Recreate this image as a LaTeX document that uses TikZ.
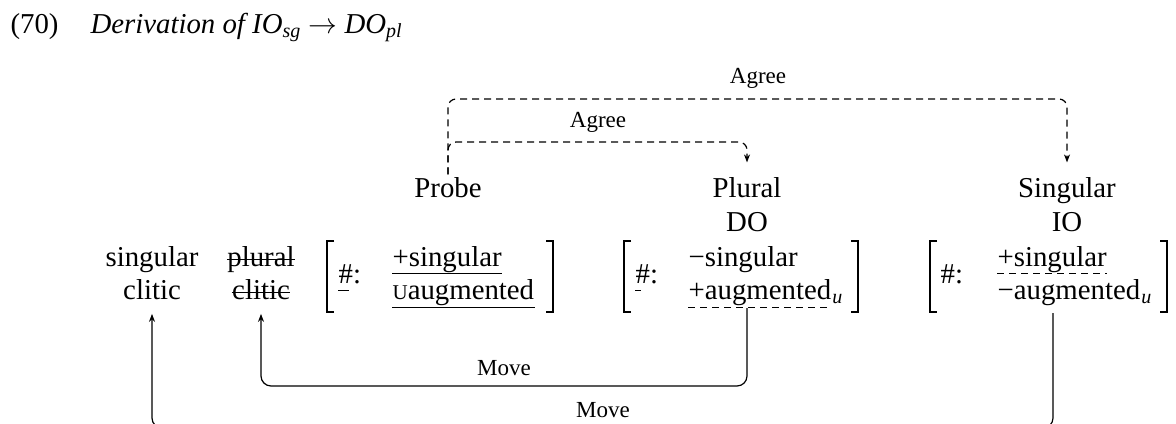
\documentclass[tikz,border=0pt]{standalone}
\usepackage{fontspec}
\setmainfont{Liberation Serif}
\usetikzlibrary{arrows.meta}

\begin{document}
\begin{tikzpicture}[x=0.5pt, y=-0.5pt, semithick,
    word/.style={anchor=base, inner sep=0pt, font=\fontsize{14.4}{17}\selectfont},
    feat/.style={anchor=base west, inner sep=0pt, font=\fontsize{14.4}{17}\selectfont},
    lbl/.style={anchor=base, inner sep=0pt, font=\fontsize{11.5}{13}\selectfont},
    agree/.style={dash pattern=on 3.5pt off 2.5pt, rounded corners=4pt,
        -{Stealth[length=4pt, width=3pt]}, shorten >=7pt, shorten <=1pt},
    move/.style={rounded corners=5pt, -{Stealth[length=4pt, width=3pt]}, shorten >=7pt},
    brk/.style={line width=1pt},
    uln/.style={line width=0.5pt},
    dln/.style={line width=0.5pt, dash pattern=on 3.5pt off 2.5pt}]
    \useasboundingbox (0,0) rectangle (1176,423);

    % example number and title
    \node[feat] (exnum) at (10,33) {(70)};
    \node[feat, font=\fontsize{14.4}{17}\selectfont\itshape] (title) at (90,33)
        {Derivation of IO\textsubscript{sg} $\rightarrow$ DO\textsubscript{pl}};

    % heads
    \node[word] (probe) at (448,197) {Probe};
    \node[word] (plural) at (747,197) {Plural};
    \node[word] (do) at (747,231) {DO};
    \node[word] (sing) at (1067,197) {Singular};
    \node[word] (io) at (1067,231) {IO};

    % clitics
    \node[word] (sgword) at (152,266) {singular};
    \node[word] (sgclitic) at (152,299) {clitic};
    \node[word] (plword) at (261,266) {plural};
    \node[word] (plclitic) at (261,299) {clitic};
    \draw[uln] ([yshift=3.5pt]plword.base west) -- ([yshift=3.5pt]plword.base east);
    \draw[uln] ([yshift=3.5pt]plclitic.base west) -- ([yshift=3.5pt]plclitic.base east);

    % probe features
    \draw[brk] (334,241) -- (327,241) -- (327,312) -- (334,312);
    \draw[brk] (546,241) -- (553,241) -- (553,312) -- (546,312);
    \node[feat] (phash) at (338,283) {\#:};
    \node[feat] (psg) at (392,266) {+singular};
    \node[feat] (paug) at (392,299) {{\fontsize{10.5}{10}\selectfont U}augmented};
    \draw[uln] ([yshift=-3.5pt]phash.base west) -- ++(11,0);
    \draw[uln] ([yshift=-3.5pt]psg.base west) -- ([yshift=-3.5pt]psg.base east);
    \draw[uln] ([yshift=-4pt]paug.base west) -- ([yshift=-4pt]paug.base east);

    % DO features
    \draw[brk] (631,241) -- (624,241) -- (624,312) -- (631,312);
    \draw[brk] (851,241) -- (858,241) -- (858,312) -- (851,312);
    \node[feat] (dhash) at (635,283) {\#:};
    \node[feat] (dsg) at (688,266) {−singular};
    \node[feat] (daug) at (688,299) {+augmented};
    \node[feat] (dsub) at (daug.base east) {\textsubscript{\itshape u}};
    \draw[uln] ([yshift=-3.5pt]dhash.base west) -- ++(6,0);
    \draw[dln] ([yshift=-4pt]daug.base west) -- ([yshift=-4pt]daug.base east);

    % IO features
    \draw[brk] (937,241) -- (930,241) -- (930,312) -- (937,312);
    \draw[brk] (1160,241) -- (1167,241) -- (1167,312) -- (1160,312);
    \node[feat] (ihash) at (940,283) {\#:};
    \node[feat] (isg) at (997,266) {+singular};
    \node[feat] (iaug) at (997,299) {−augmented};
    \node[feat] (isub) at (iaug.base east) {\textsubscript{\itshape u}};
    \draw[dln] ([yshift=-3.5pt]isg.base west) -- ([yshift=-3.5pt]isg.base east);

    % Agree
    \draw[agree] (probe.north) -- (probe.north |- 0,99) -- (sing.north |- 0,99) -- (sing.north);
    \draw[agree] (probe.north) -- (probe.north |- 0,142) -- (plural.north |- 0,142) -- (plural.north);
    \node[lbl] (agreeio) at (758,83) {Agree};
    \node[lbl] (agreedo) at (598,127) {Agree};

    % Move
    \coordinate (dofoot) at (747,308);
    \coordinate (iofoot) at (1053,313);
    \draw[move] (dofoot) -- (dofoot |- 0,386) -- (plclitic.south |- 0,386) -- (plclitic.south);
    \draw[move] (iofoot) -- (iofoot |- 0,428) -- (sgclitic.south |- 0,428) -- (sgclitic.south);
    \node[lbl] (movedo) at (504,375) {Move};
    \node[lbl] (moveio) at (603,417) {Move};
\end{tikzpicture}
\end{document}
